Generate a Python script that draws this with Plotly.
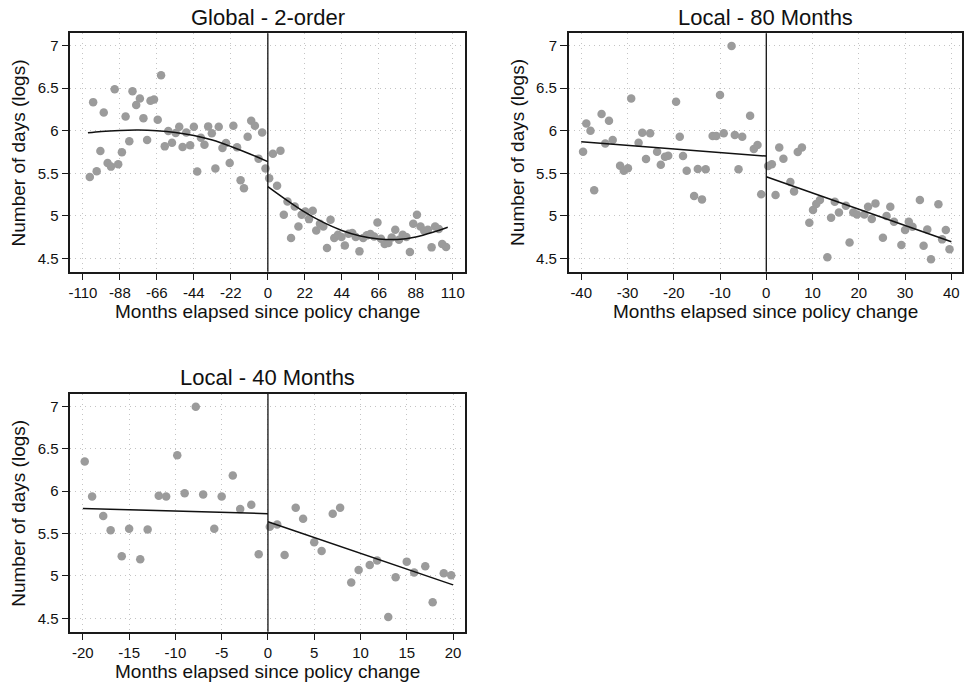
import plotly.graph_objects as go

# ---------------- data ----------------
# Panel 1: Global - 2-order
g_left_x = [-105.9, -103.9, -101.8, -99.6, -97.6, -95.3, -93.3, -91.1, -89.0, -86.8,
            -84.6, -82.4, -80.5, -78.3, -76.1, -74.0, -71.8, -69.8, -67.7, -65.5,
            -63.5, -61.3, -59.2, -57.0, -54.8, -52.7, -50.7, -48.5, -46.2, -44.0,
            -42.0, -39.8, -37.7, -35.5, -33.3, -31.2, -29.2, -27.0, -24.9, -22.7,
            -20.5, -18.3, -16.2, -14.2, -12.0, -9.9, -7.7, -5.5, -3.4, -1.4]
g_left_y = [5.457, 6.336, 5.523, 5.762, 6.215, 5.621, 5.578, 6.488, 5.605, 5.746,
            6.168, 5.875, 6.465, 6.301, 6.379, 6.148, 5.891, 6.352, 6.367, 6.129,
            6.652, 5.816, 5.996, 5.859, 5.973, 6.047, 5.809, 5.980, 5.828, 6.047,
            5.520, 5.918, 5.836, 6.051, 5.969, 5.555, 6.047, 5.797, 5.855, 5.621,
            6.059, 5.805, 5.418, 5.324, 5.930, 6.117, 6.059, 5.672, 5.980, 5.555]
g_right_x = [0.8, 3.0, 5.5, 7.5, 9.5, 11.7, 13.8, 16.0, 18.2, 20.1,
             22.3, 24.5, 26.7, 28.8, 31.0, 33.0, 35.2, 37.3, 39.5, 41.7,
             43.8, 45.8, 48.0, 50.2, 52.3, 54.5, 56.7, 58.9, 61.0, 63.2,
             65.2, 67.3, 69.5, 71.7, 73.7, 75.8, 78.0, 80.2, 82.4, 84.5,
             86.5, 88.7, 90.8, 93.0, 95.2, 97.4, 99.5, 101.7, 103.7, 106.0]
g_right_y = [5.441, 5.730, 5.352, 5.766, 5.012, 5.168, 4.738, 5.109, 4.875, 5.012,
             5.051, 4.961, 5.059, 4.828, 4.906, 4.875, 4.621, 4.953, 4.738, 4.777,
             4.750, 4.652, 4.789, 4.797, 4.750, 4.582, 4.738, 4.770, 4.785, 4.758,
             4.922, 4.730, 4.668, 4.680, 4.746, 4.836, 4.719, 4.777, 4.750, 4.574,
             4.906, 5.012, 4.875, 4.824, 4.836, 4.629, 4.875, 4.844, 4.668, 4.633]
g_fit_left_x = [-107, -99, -88, -77, -66, -55, -44, -33, -22, -11, 0]
g_fit_left_y = [5.975, 5.992, 6.004, 6.008, 6.000, 5.980, 5.945, 5.890, 5.815, 5.730, 5.637]
g_fit_right_x = [0, 11, 22, 33, 44, 55, 66, 77, 88, 99, 107]
g_fit_right_y = [5.344, 5.188, 5.043, 4.922, 4.828, 4.762, 4.728, 4.722, 4.752, 4.812, 4.865]

# Panel 2: Local - 80 Months
l80_left_x = [-39.6, -38.9, -38.0, -37.2, -35.6, -34.8, -34.0, -33.2, -31.6, -30.8,
              -29.9, -29.2, -27.6, -26.8, -26.0, -25.1, -23.6, -22.8, -21.9, -21.2,
              -19.5, -18.7, -18.0, -17.2, -15.6, -14.8, -13.9, -13.1, -11.6, -10.8,
              -10.0, -9.2, -7.5, -6.8, -6.0, -5.2, -3.5, -2.7, -1.9, -1.1]
l80_left_y = [5.753, 6.086, 6.000, 5.300, 6.196, 5.851, 6.118, 5.890, 5.589, 5.530,
              5.558, 6.380, 5.859, 5.976, 5.667, 5.969, 5.753, 5.600, 5.694, 5.706,
              6.340, 5.930, 5.702, 5.530, 5.232, 5.550, 5.193, 5.546, 5.937, 5.937,
              6.420, 5.969, 6.996, 5.949, 5.546, 5.930, 6.177, 5.785, 5.831, 5.252]
l80_right_x = [0.4, 1.2, 2.0, 2.8, 3.7, 5.2, 6.0, 6.8, 7.7, 9.3,
               10.1, 10.8, 11.6, 13.2, 14.0, 14.8, 15.7, 17.2, 18.0, 18.8,
               19.6, 21.2, 22.0, 22.8, 23.6, 25.2, 26.0, 26.8, 27.6, 29.2,
               30.0, 30.8, 31.6, 33.2, 34.0, 34.8, 35.6, 37.2, 38.0, 38.8, 39.6]
l80_right_y = [5.585, 5.605, 5.244, 5.804, 5.671, 5.397, 5.287, 5.749, 5.804, 4.919,
               5.067, 5.138, 5.185, 4.512, 4.978, 5.165, 5.040, 5.118, 4.687, 5.040,
               5.016, 5.016, 5.106, 4.962, 5.146, 4.743, 4.997, 5.106, 4.930, 4.657,
               4.833, 4.930, 4.872, 5.185, 4.649, 4.840, 4.488, 5.135, 4.723, 4.833, 4.606]
l80_fit_left_x = [-40, 0]
l80_fit_left_y = [5.871, 5.702]
l80_fit_right_x = [0, 40]
l80_fit_right_y = [5.459, 4.695]

# Panel 3: Local - 40 Months
l40_left_x = [-19.8, -19.0, -17.8, -17.0, -15.8, -15.0, -13.8, -13.0, -11.8, -11.0,
              -9.8, -9.0, -7.8, -7.0, -5.8, -5.0, -3.8, -3.0, -1.8, -1.0]
l40_left_y = [6.349, 5.937, 5.706, 5.538, 5.232, 5.557, 5.197, 5.549, 5.945, 5.937,
              6.423, 5.976, 6.995, 5.961, 5.557, 5.937, 6.184, 5.788, 5.839, 5.255]
l40_right_x = [0.2, 1.0, 1.8, 3.0, 3.8, 5.0, 5.8, 7.0, 7.8, 9.0,
               9.8, 11.0, 11.8, 13.0, 13.8, 15.0, 15.8, 17.0, 17.8, 19.0, 19.8]
l40_right_y = [5.581, 5.608, 5.248, 5.804, 5.675, 5.397, 5.295, 5.734, 5.804, 4.922,
               5.071, 5.130, 5.181, 4.515, 4.985, 5.169, 5.040, 5.114, 4.691, 5.032, 5.009]
l40_fit_left_x = [-20, 0]
l40_fit_left_y = [5.796, 5.734]
l40_fit_right_x = [0, 20]
l40_fit_right_y = [5.639, 4.895]

panel_titles = ["Global - 2-order", "Local - 80 Months", "Local - 40 Months"]
x_title = "Months elapsed since policy change"
y_title = "Number of days (logs)"
y_ticks = [4.5, 5, 5.5, 6, 6.5, 7]
y_ticktext = ["4.5", "5", "5.5", "6", "6.5", "7"]
x_ticks_global = [-110, -88, -66, -44, -22, 0, 22, 44, 66, 88, 110]
x_ticks_80 = [-40, -30, -20, -10, 0, 10, 20, 30, 40]
x_ticks_40 = [-20, -15, -10, -5, 0, 5, 10, 15, 20]

# ---------------- figure ----------------
W, H = 964, 686
FONT = "Liberation Sans, Arial, Helvetica, sans-serif"
MARKER = "#9b9b9b"

panels = [
    dict(xa="x", ya="y", lx=g_left_x, ly=g_left_y, rx=g_right_x, ry=g_right_y,
         flx=g_fit_left_x, fly=g_fit_left_y, frx=g_fit_right_x, fry=g_fit_right_y,
         shape="spline", ticks=x_ticks_global, xr=[-117.5, 117.3],
         px=(68.5, 464.5), py=(33.3, 271.7)),
    dict(xa="x2", ya="y2", lx=l80_left_x, ly=l80_left_y, rx=l80_right_x, ry=l80_right_y,
         flx=l80_fit_left_x, fly=l80_fit_left_y, frx=l80_fit_right_x, fry=l80_fit_right_y,
         shape="linear", ticks=x_ticks_80, xr=[-42.7, 42.3],
         px=(568.5, 963.0), py=(33.3, 271.7)),
    dict(xa="x3", ya="y3", lx=l40_left_x, ly=l40_left_y, rx=l40_right_x, ry=l40_right_y,
         flx=l40_fit_left_x, fly=l40_fit_left_y, frx=l40_fit_right_x, fry=l40_fit_right_y,
         shape="linear", ticks=x_ticks_40, xr=[-21.36, 21.3],
         px=(68.5, 464.5), py=(394.0, 631.7)),
]

fig = go.Figure()
layout = dict(
    width=W, height=H, margin=dict(l=0, r=0, t=0, b=0),
    paper_bgcolor="white", plot_bgcolor="white", showlegend=False,
    font=dict(family=FONT, color="#111111", size=15),
    annotations=[], shapes=[],
)

for i, p in enumerate(panels):
    for xs, ys in ((p["lx"], p["ly"]), (p["rx"], p["ry"])):
        fig.add_trace(go.Scatter(x=xs, y=ys, mode="markers", xaxis=p["xa"], yaxis=p["ya"],
                                 marker=dict(color=MARKER, size=8.5, line=dict(width=0)),
                                 hoverinfo="skip"))
    for xs, ys in ((p["flx"], p["fly"]), (p["frx"], p["fry"])):
        fig.add_trace(go.Scatter(x=xs, y=ys, mode="lines", xaxis=p["xa"], yaxis=p["ya"],
                                 line=dict(color="#111111", width=1.5, shape=p["shape"]),
                                 hoverinfo="skip"))
    k = "" if i == 0 else str(i + 1)
    x0, x1 = p["px"]
    y0, y1 = p["py"]
    dom_x = [x0 / W, x1 / W]
    dom_y = [1 - y1 / H, 1 - y0 / H]
    common = dict(showline=True, mirror=True, linecolor="#1a1a1a", linewidth=1.5,
                  ticks="outside", ticklen=7, tickwidth=1, tickcolor="#1a1a1a",
                  showgrid=True, gridcolor="#c4c4c4", gridwidth=1, griddash="1px,4px",
                  zeroline=False, tickfont=dict(size=15, family=FONT, color="#111111"))
    layout["xaxis" + k] = dict(domain=dom_x, anchor="y" + k, range=p["xr"],
                               tickvals=p["ticks"], ticktext=[str(t) for t in p["ticks"]],
                               **common)
    layout["yaxis" + k] = dict(domain=dom_y, anchor="x" + k, range=[4.343, 7.145],
                               tickvals=y_ticks, ticktext=y_ticktext, **common)
    # vertical line at policy change
    layout["shapes"].append(dict(type="line", xref="x" + k, yref="y" + k + " domain",
                                 x0=0, x1=0, y0=0, y1=1,
                                 line=dict(color="#111111", width=1.3)))
    cx = (x0 + x1) / 2 / W
    # panel title
    layout["annotations"].append(dict(text=panel_titles[i], xref="paper", yref="paper",
                                      x=cx, y=1 - (y0 - 16.0) / H, showarrow=False,
                                      xanchor="center", yanchor="middle",
                                      font=dict(size=22, family=FONT, color="#111111")))
    # x title
    layout["annotations"].append(dict(text=x_title, xref="paper", yref="paper",
                                      x=cx, y=1 - (y1 + 39.5) / H, showarrow=False,
                                      xanchor="center", yanchor="middle",
                                      font=dict(size=19, family=FONT, color="#111111")))
    # y title
    layout["annotations"].append(dict(text=y_title, xref="paper", yref="paper",
                                      x=(x0 - 51.5) / W, y=1 - (y0 + y1) / 2 / H,
                                      showarrow=False, textangle=-90,
                                      xanchor="center", yanchor="middle",
                                      font=dict(size=19, family=FONT, color="#111111")))

fig.update_layout(**layout)
fig.write_html("out.html", config={"displayModeBar": False},
               post_script="document.body.style.margin='0';document.body.style.padding='0';")
